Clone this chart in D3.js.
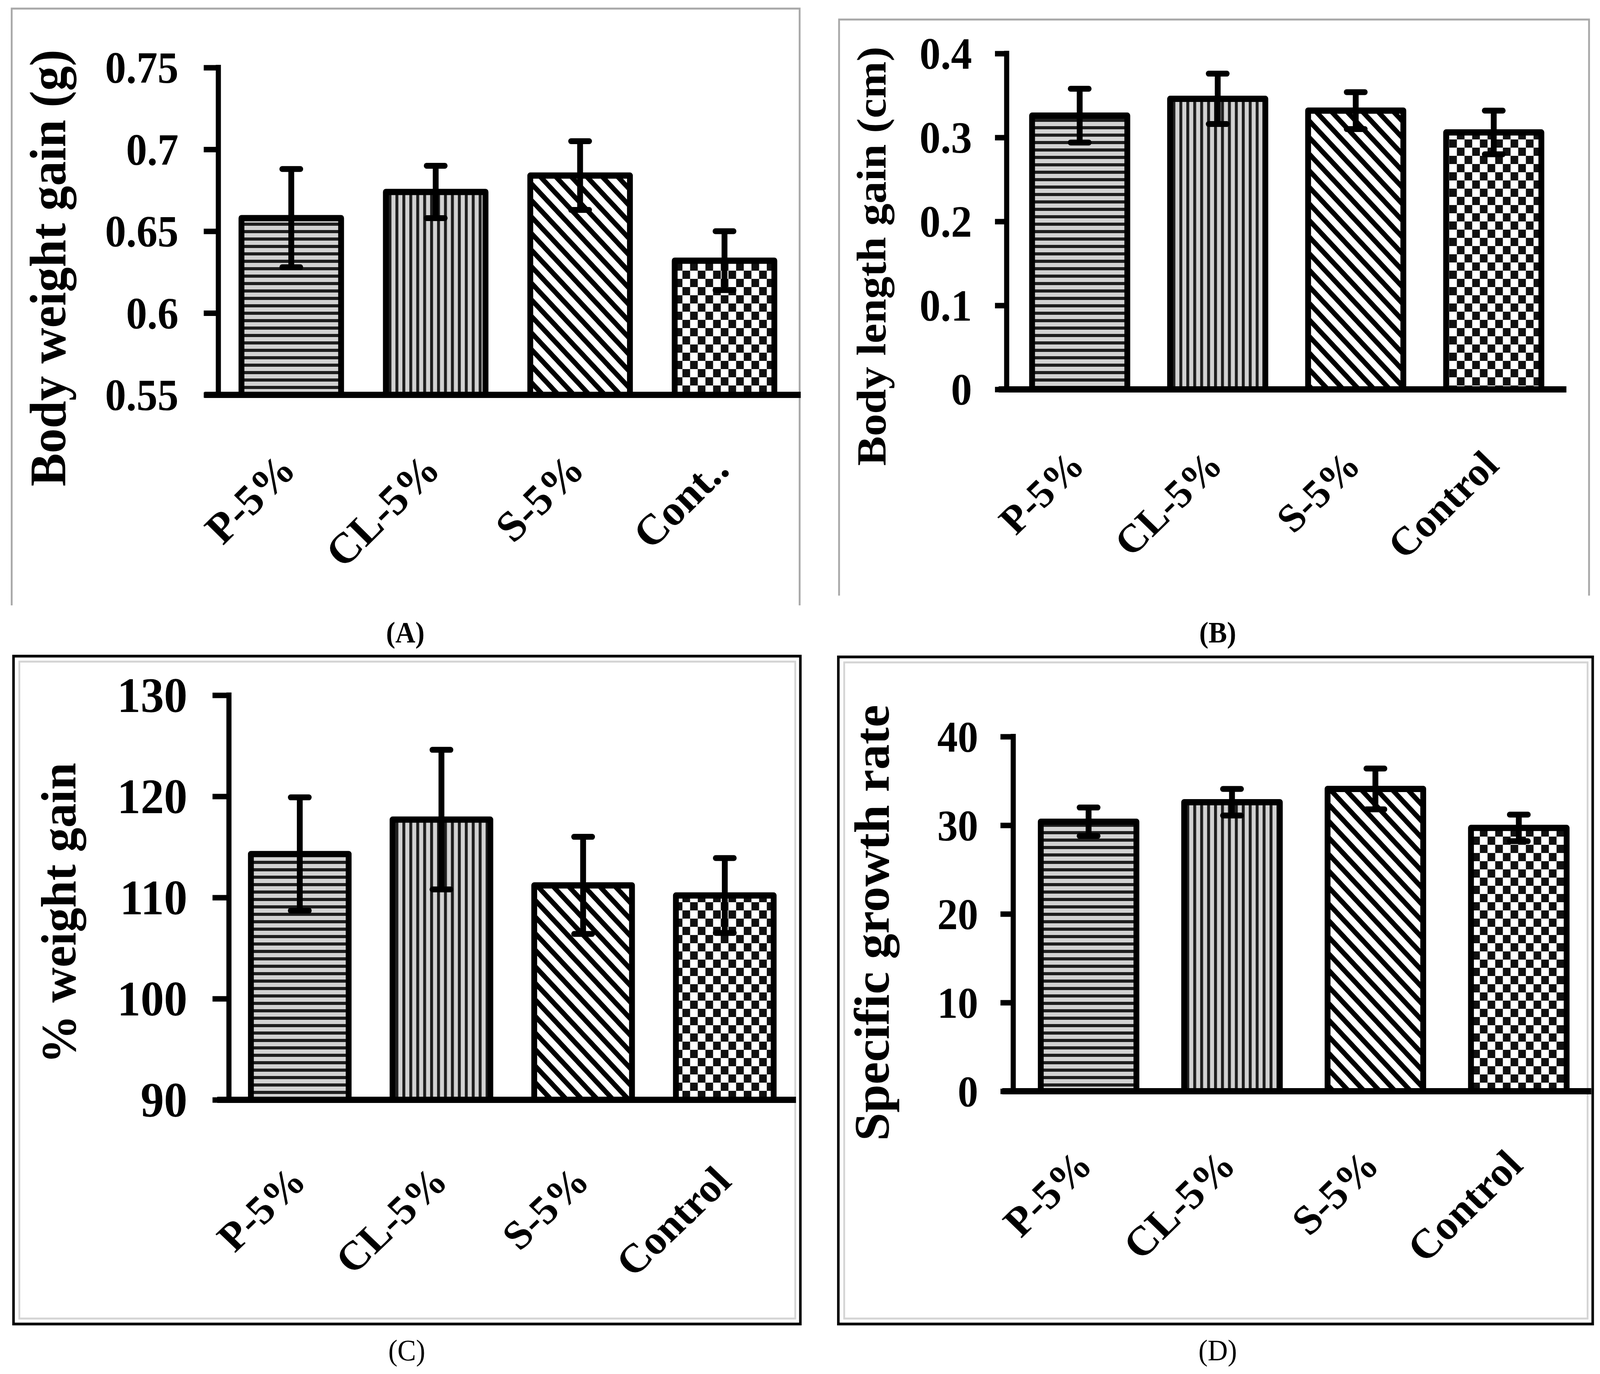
<!DOCTYPE html>
<html>
<head>
<meta charset="utf-8">
<script src="https://cdn.jsdelivr.net/npm/d3@7"></script>
<style>
  html, body { margin: 0; padding: 0; background: #fff; overflow: hidden; }
  svg { display: block; width: 100vw; height: 100vh; }
  text { font-family: "Liberation Serif", "Times New Roman", serif; fill: #000; }
</style>
</head>
<body>
<div class="canvas"></div>
<script>
// ---- data ----
const groupsA = ["P-5%", "CL-5%", "S-5%", "Cont.."];
const groups = ["P-5%", "CL-5%", "S-5%", "Control"];

const bodyWeightGain = [0.658, 0.674, 0.684, 0.632];
const bodyWeightGainErr = [0.030, 0.016, 0.021, 0.018];
const bodyWeightTicks = [0.55, 0.6, 0.65, 0.7, 0.75];

const bodyLengthGain = [0.326, 0.346, 0.332, 0.306];
const bodyLengthGainErr = [0.032, 0.030, 0.022, 0.026];
const bodyLengthTicks = [0, 0.1, 0.2, 0.3, 0.4];

const pctWeightGain = [114.3, 117.7, 111.2, 110.2];
const pctWeightGainErr = [5.6, 6.9, 4.8, 3.7];
const pctWeightTicks = [90, 100, 110, 120, 130];

const growthRate = [30.4, 32.6, 34.1, 29.7];
const growthRateErr = [1.6, 1.5, 2.3, 1.5];
const growthRateTicks = [0, 10, 20, 30, 40];

const fills = ["url(#hlines)", "url(#vlines)", "url(#diag)", "url(#checker)"];

const W = 4382, H = 3518;
const svg = d3.select(".canvas").append("svg")
	.attr("viewBox", `0 0 ${W} ${H}`)
	.attr("preserveAspectRatio", "none");
svg.append("rect").attr("width", W).attr("height", H).attr("fill", "#fff");

// ---- hatch patterns ----
const defs = svg.append("defs");
const hl = defs.append("pattern").attr("id", "hlines")
	.attr("patternUnits", "userSpaceOnUse").attr("width", 19).attr("height", 19);
hl.append("rect").attr("width", 19).attr("height", 19).attr("fill", "#d2d2d2");
hl.append("rect").attr("width", 19).attr("height", 8).attr("fill", "#1e1e1e");

const vl = defs.append("pattern").attr("id", "vlines")
	.attr("patternUnits", "userSpaceOnUse").attr("width", 19).attr("height", 19);
vl.append("rect").attr("width", 19).attr("height", 19).attr("fill", "#d2d2d2");
vl.append("rect").attr("width", 8).attr("height", 19).attr("fill", "#1e1e1e");

const dg = defs.append("pattern").attr("id", "diag")
	.attr("patternUnits", "userSpaceOnUse").attr("width", 30).attr("height", 30)
	.attr("patternTransform", "rotate(-45)");
dg.append("rect").attr("width", 30).attr("height", 30).attr("fill", "#fff");
dg.append("rect").attr("width", 13).attr("height", 30).attr("fill", "#000");

const ck = defs.append("pattern").attr("id", "checker")
	.attr("patternUnits", "userSpaceOnUse").attr("width", 42).attr("height", 42);
ck.append("rect").attr("width", 42).attr("height", 42).attr("fill", "#fff");
ck.append("rect").attr("width", 21).attr("height", 21).attr("fill", "#111");
ck.append("rect").attr("x", 21).attr("y", 21).attr("width", 21).attr("height", 21).attr("fill", "#111");

// ---- one panel ----
function drawPanel(cfg) {
	const g = svg.append("g");
	const f = cfg.box;

	// frame
	if (cfg.frame === "grey") {
		g.append("path")
			.attr("d", `M${f[0]},${f[3]}V${f[1]}H${f[2]}V${f[3]}`)
			.attr("fill", "none").attr("stroke", "#a8a8a8").attr("stroke-width", 5);
	} else {
		g.append("rect")
			.attr("x", f[0]).attr("y", f[1]).attr("width", f[2] - f[0]).attr("height", f[3] - f[1])
			.attr("fill", "none").attr("stroke", "#000").attr("stroke-width", 7);
		g.append("rect")
			.attr("x", f[0] + 16).attr("y", f[1] + 14).attr("width", f[2] - f[0] - 30).attr("height", f[3] - f[1] - 28)
			.attr("fill", "none").attr("stroke", "#d4d4d4").attr("stroke-width", 5);
	}

	const x = d3.scaleBand()
		.domain(cfg.cats)
		.range(cfg.band)
		.paddingInner(cfg.pad)
		.paddingOuter(cfg.pad / 2);
	const y = d3.scaleLinear()
		.domain([cfg.ticks[0], cfg.ticks[cfg.ticks.length - 1]])
		.range([cfg.yBottom, cfg.yTop]);

	const rows = cfg.cats.map((c, i) => ({ c, v: cfg.values[i], e: cfg.errs[i], fill: fills[i] }));

	// bars
	g.selectAll("rect.bar")
		.data(rows)
		.enter()
		.append("rect")
		.attr("class", "bar")
		.attr("x", (d) => x(d.c))
		.attr("y", (d) => y(d.v))
		.attr("width", x.bandwidth())
		.attr("height", (d) => y(cfg.ticks[0]) - y(d.v))
		.attr("fill", (d) => d.fill)
		.attr("stroke", "#000")
		.attr("stroke-width", 16)
		.attr("stroke-linejoin", "round");

	// y axis
	const yAxis = g.append("g")
		.attr("transform", `translate(${cfg.axisX},0)`)
		.call(
			d3.axisLeft(y)
				.tickValues(cfg.ticks)
				.tickFormat((d) => String(d))
				.tickSize(cfg.tickLen)
				.tickSizeOuter(0)
		);
	yAxis.attr("font-size", null).attr("font-family", null);
	yAxis.select(".domain").attr("stroke", "#000").attr("stroke-width", 14)
		.attr("d", `M0,${cfg.yTop - 7}V${cfg.yBottom}`);
	yAxis.selectAll(".tick line").attr("stroke", "#000").attr("stroke-width", 14);
	yAxis.selectAll(".tick text")
		.attr("x", null)
		.attr("dy", null)
		.attr("transform", `translate(${-cfg.labelGap},0) scale(${cfg.tickSx},1)`)
		.attr("dominant-baseline", "central")
		.style("font-size", cfg.tickFont + "px")
		.style("font-weight", "bold");

	// x axis line
	g.append("line")
		.attr("x1", cfg.xLine[0]).attr("x2", cfg.xLine[1])
		.attr("y1", cfg.yBottom).attr("y2", cfg.yBottom)
		.attr("stroke", "#000").attr("stroke-width", 16);

	// error bars
	const eb = g.selectAll("g.err").data(rows).enter().append("g").attr("class", "err")
		.attr("transform", (d) => `translate(${x(d.c) + x.bandwidth() / 2},0)`);
	eb.append("line")
		.attr("y1", (d) => y(d.v + d.e)).attr("y2", (d) => y(d.v - d.e))
		.attr("stroke", "#000").attr("stroke-width", 16);
	eb.append("line")
		.attr("x1", -25).attr("x2", 25)
		.attr("y1", (d) => y(d.v + d.e)).attr("y2", (d) => y(d.v + d.e))
		.attr("stroke", "#000").attr("stroke-width", 15).attr("stroke-linecap", "round");
	eb.append("line")
		.attr("x1", -25).attr("x2", 25)
		.attr("y1", (d) => y(d.v - d.e)).attr("y2", (d) => y(d.v - d.e))
		.attr("stroke", "#000").attr("stroke-width", 15).attr("stroke-linecap", "round");

	// category labels
	g.selectAll("text.cat")
		.data(rows)
		.enter()
		.append("text")
		.attr("class", "cat")
		.attr("transform", (d) =>
			`translate(${x(d.c) + x.bandwidth() / 2 + cfg.catDx},${cfg.yBottom + cfg.catDy}) scale(${cfg.catSx},1) rotate(-45)`)
		.attr("text-anchor", "end")
		.style("font-size", cfg.catFont + "px")
		.style("font-weight", "bold")
		.text((d) => d.c);

	// axis title (baseline at titleX, glyphs extend to the left)
	g.append("text")
		.attr("transform", `translate(${cfg.titleX},${cfg.titleY}) scale(${cfg.titleSx},1) rotate(-90)`)
		.attr("text-anchor", "middle")
		.style("font-size", cfg.titleFont + "px")
		.style("font-weight", "bold")
		.text(cfg.title);

	// panel letter
	svg.append("text")
		.attr("x", cfg.letterX).attr("y", cfg.letterY)
		.attr("text-anchor", "middle")
		.style("font-size", "76px")
		.style("font-weight", cfg.letterBold ? "bold" : "normal")
		.text(cfg.letter);
}

drawPanel({
	cats: groupsA, values: bodyWeightGain, errs: bodyWeightGainErr, ticks: bodyWeightTicks,
	title: "Body weight gain (g)", letter: "(A)", letterBold: true,
	frame: "grey", box: [32, 22, 2190, 1550],
	axisX: 598, yTop: 173, yBottom: 1011, xLine: [560, 2193],
	band: [600, 2182], pad: 0.31,
	tickLen: 40, tickFont: 115, tickSx: 1.0, labelGap: 109,
	catFont: 110, catSx: 1.08, catDx: 18, catDy: 197,
	titleX: 179, titleY: 686, titleFont: 127, titleSx: 1.1,
	letterX: 1110, letterY: 1645
});

drawPanel({
	cats: groups, values: bodyLengthGain, errs: bodyLengthGainErr, ticks: bodyLengthTicks,
	title: "Body length gain (cm)", letter: "(B)", letterBold: true,
	frame: "grey", box: [2298, 50, 4352, 1525],
	axisX: 2757, yTop: 137, yBottom: 997, xLine: [2735, 4290],
	band: [2768, 4280], pad: 0.31,
	tickLen: 32, tickFont: 115, tickSx: 1.0, labelGap: 95,
	catFont: 102, catSx: 1.1, catDx: 19, catDy: 200,
	titleX: 2425, titleY: 656, titleFont: 114, titleSx: 1.0,
	letterX: 3335, letterY: 1645
});

drawPanel({
	cats: groups, values: pctWeightGain, errs: pctWeightGainErr, ticks: pctWeightTicks,
	title: "% weight gain", letter: "(C)", letterBold: false,
	frame: "black", box: [37, 1680, 2192, 3390],
	axisX: 627, yTop: 1780, yBottom: 2816, xLine: [595, 2180],
	band: [627, 2179], pad: 0.31,
	tickLen: 45, tickFont: 128, tickSx: 1.0, labelGap: 114,
	catFont: 104, catSx: 1.12, catDx: 23, catDy: 214,
	titleX: 206, titleY: 2338, titleFont: 125, titleSx: 1.08,
	letterX: 1114, letterY: 3483
});

drawPanel({
	cats: groups, values: growthRate, errs: growthRateErr, ticks: growthRateTicks,
	title: "Specific growth rate", letter: "(D)", letterBold: false,
	frame: "black", box: [2296, 1682, 4362, 3390],
	axisX: 2775, yTop: 1886, yBottom: 2794, xLine: [2745, 4358],
	band: [2785, 4356], pad: 0.333,
	tickLen: 35, tickFont: 112, tickSx: 1.0, labelGap: 96,
	catFont: 106, catSx: 1.1, catDx: 16, catDy: 195,
	titleX: 2434, titleY: 2363, titleFont: 130, titleSx: 1.05,
	letterX: 3335, letterY: 3483
});
</script>
</body>
</html>
